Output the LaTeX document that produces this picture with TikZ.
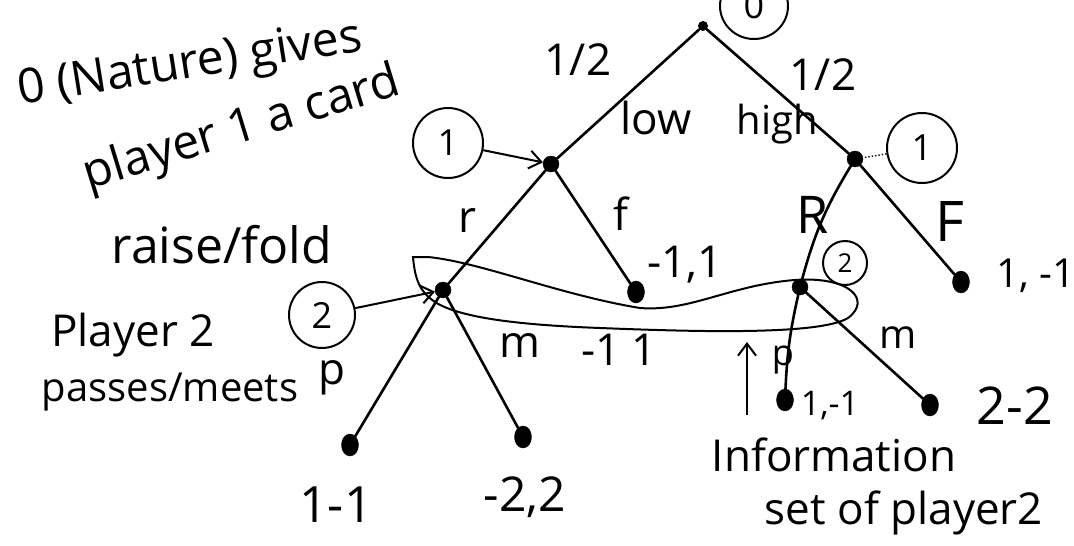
\documentclass[tikz,border=0pt]{standalone}
\usepackage{fontspec}
\setmainfont{Open Sans}
\usetikzlibrary{arrows.meta,shapes.geometric}
\tikzset{
  dotnode/.style={circle,fill=black,draw=black,inner sep=0pt,minimum size=16pt},
  leafnode/.style={ellipse,fill=black,draw=black,inner sep=0pt,minimum width=17pt,minimum height=22pt},
  rootdot/.style={circle,fill=black,inner sep=0pt,minimum size=10pt},
  pcirc/.style={circle,draw=black,line width=2pt,inner sep=0pt,font=\fontsize{36}{40}\selectfont},
  br/.style={line width=2.6pt,line cap=round},
  txt/.style={font=\fontsize{44}{48}\selectfont,inner sep=0pt},
  ptr/.style={line width=2pt,-{Straight Barb[length=12pt,width=18pt]}},
}
\begin{document}
\begin{tikzpicture}[x=1pt,y=-1pt]
\useasboundingbox (0,0) rectangle (1074,546);
% tree nodes
\node[rootdot] (root) at (703,26) {};
\node[dotnode] (n1L) at (551,164) {};
\node[dotnode] (n1R) at (855,159) {};
\node[dotnode] (n2L) at (443,290) {};
\node[dotnode] (n2R) at (800,287) {};
\node[leafnode] (lf) at (636,292) {};
\node[leafnode] (lF) at (961,282) {};
\node[leafnode] (lLp) at (350,445) {};
\node[leafnode] (lLm) at (523,437) {};
\node[leafnode] (lRp) at (785,400) {};
\node[leafnode] (lRm) at (930,405) {};
% player circles
\node[pcirc,ellipse,minimum width=68pt,minimum height=66pt] (c0) at (754,6) {0};
\node[pcirc,minimum size=70pt] (c1L) at (448,143) {1};
\node[pcirc,minimum size=70pt] (c1R) at (922,148) {1};
\node[pcirc,minimum size=66pt] (c2L) at (322,315) {2};
\node[pcirc,minimum size=44pt,font=\fontsize{26}{30}\selectfont] (c2R) at (845,263) {2};
% edges
\draw[br] (root) -- (n1L);
\draw[br] (root) -- (n1R);
\draw[br] (n1L) -- (n2L);
\draw[br] (n1L) -- (lf);
\draw[br] (n1R) to[bend right=8] (n2R);
\draw[br] (n1R) -- (lF);
\draw[br] (n2L) -- (lLp);
\draw[br] (n2L) -- (lLm);
\draw[br] (n2R) to[bend right=5] (lRp);
\draw[br] (n2R) -- (lRm);
% pointers
\draw[ptr] (c1L) -- (n1L);
\draw[ptr] (c2L) -- (n2L);
\draw[line width=1.4pt,dotted] (c1R) -- (n1R);
% information set of player 2
\draw[line width=2pt] (413,257) -- (428,257)
  .. controls (480,262) and (560,295) .. (640,308)
  .. controls (690,312) and (730,285) .. (795,280)
  .. controls (850,276) and (872,300) .. (848,318)
  .. controls (820,335) and (700,332) .. (600,328)
  .. controls (520,325) and (460,318) .. (435,302)
  .. controls (420,292) and (415,280) .. (413,257) -- cycle;
% edge labels
\node[txt] (lh1) at (578,60) {1/2};
\node[txt] (lh2) at (823,75) {1/2};
\node[txt] (llow) at (656,118) {low};
\node[txt,font=\fontsize{40}{44}\selectfont] (lhigh) at (777,124) {high};
\node[txt] (lr) at (467,221) {r};
\node[txt] (lfl) at (621,214) {f};
\node[txt,font=\fontsize{52}{56}\selectfont] (lR) at (813,215) {R};
\node[txt,font=\fontsize{56}{60}\selectfont] (lFl) at (950,222) {F};
\node[txt] (lpL) at (332,378) {p};
\node[txt] (lmL) at (520,346) {m};
\node[txt] (lx) at (619,350) {-1 1};
\node[txt,font=\fontsize{36}{40}\selectfont] (lpR) at (783,360) {p};
\node[txt,font=\fontsize{40}{44}\selectfont] (lmR) at (898,338) {m};
% payoffs
\node[txt] (pf) at (685,265) {-1,1};
\node[txt,font=\fontsize{40}{44}\selectfont] (pF) at (1036,276) {1, -1};
\node[txt,font=\fontsize{34}{38}\selectfont] (pRp) at (830,406) {1,-1};
\node[txt,font=\fontsize{52}{56}\selectfont] (pRm) at (1015,406) {2-2};
\node[txt,font=\fontsize{50}{54}\selectfont] (pLp) at (336,505) {1-1};
\node[txt,font=\fontsize{48}{52}\selectfont] (pLm) at (525,497) {-2,2};
% information set annotation
\coordinate (ia) at (747,415);
\coordinate (ib) at (747,342);
\draw[ptr] (ia) -- (ib);
\node[txt] (inf1) at (834,455) {Information};
\node[txt] (inf2) at (904,513) {set of player2};
% side notes
\node[txt,font=\fontsize{48}{52}\selectfont,rotate=9] (nat1) at (190,66) {0 (Nature) gives};
\node[txt,font=\fontsize{48}{52}\selectfont,rotate=17] (nat2) at (242,130) {player 1 a card};
\node[txt,font=\fontsize{50}{54}\selectfont] (rf) at (222,245) {raise/fold};
\node[txt] (p2a) at (133,335) {Player 2};
\node[txt,font=\fontsize{40}{44}\selectfont] (p2b) at (170,392) {passes/meets};
\end{tikzpicture}
\end{document}
